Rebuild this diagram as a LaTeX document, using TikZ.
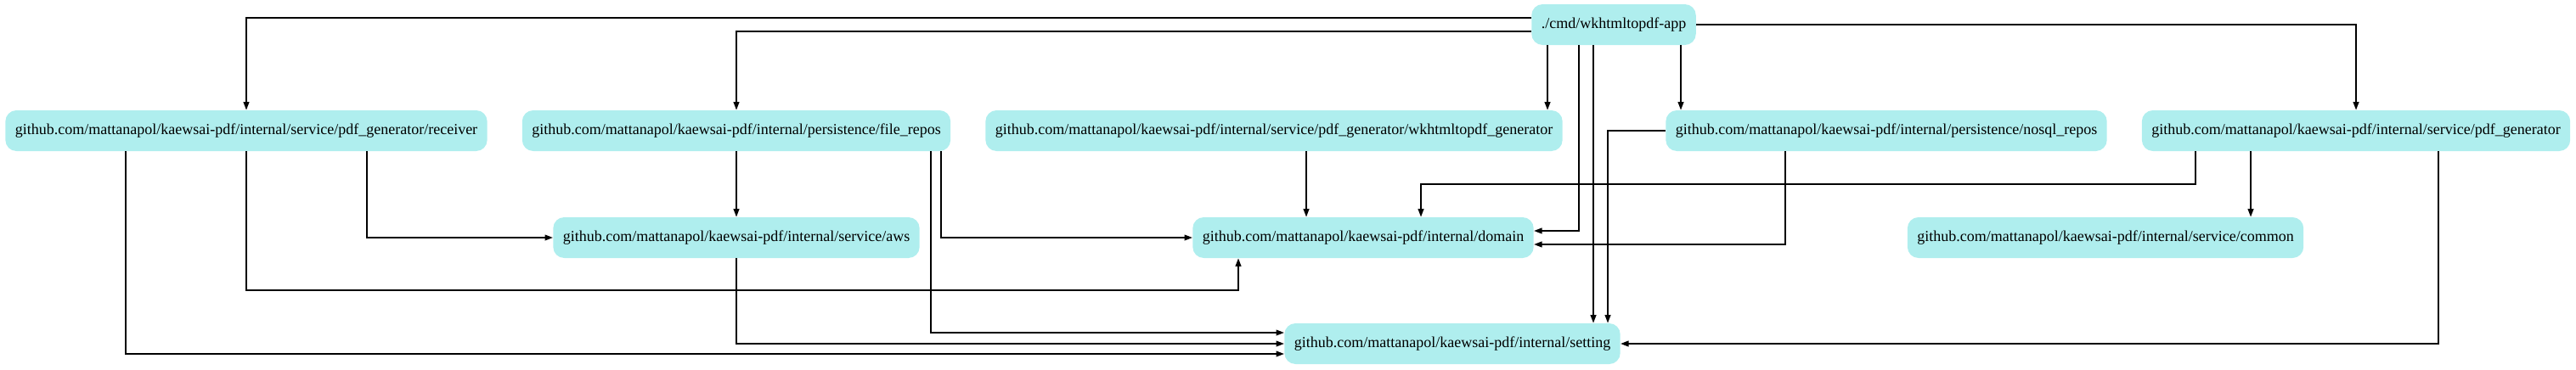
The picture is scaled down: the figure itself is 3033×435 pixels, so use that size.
\documentclass[tikz,border=0pt]{standalone}
\usepackage{fontspec}
\setmainfont{Liberation Serif}
\usetikzlibrary{calc, positioning, arrows.meta}
\definecolor{paleturq}{HTML}{AFEEEE}

\begin{document}
\begin{tikzpicture}[x=0.5pt,y=-0.5pt,>={Triangle[length=4.7pt,width=3.4pt]},
	pkg/.style={fill=paleturq, rounded corners=6.5pt, minimum height=24pt, inner xsep=5.75pt, inner ysep=0pt, font=\fontsize{9}{11}\selectfont},
	dep/.style={->, line width=0.65pt}]
				\useasboundingbox (0,0) rectangle (3033,435);
				\node[pkg] (app) at (1900,29) {./cmd/wkhtmltopdf-app};
				
				\node[pkg] (receiver) at (290,154) {github.com/mattanapol/kaewsai-pdf/internal/service/pdf\_generator/receiver};
				\node[pkg] (filerepos) at (867,154) {github.com/mattanapol/kaewsai-pdf/internal/persistence/file\_repos};
				\node[pkg] (wkgen) at (1500,154) {github.com/mattanapol/kaewsai-pdf/internal/service/pdf\_generator/wkhtmltopdf\_generator};
				\node[pkg] (nosql) at (2221,154) {github.com/mattanapol/kaewsai-pdf/internal/persistence/nosql\_repos};
				\node[pkg] (pdfgen) at (2774,154) {github.com/mattanapol/kaewsai-pdf/internal/service/pdf\_generator};
				
				\node[pkg] (aws) at (867,280) {github.com/mattanapol/kaewsai-pdf/internal/service/aws};
				\node[pkg] (domain) at (1605,280) {github.com/mattanapol/kaewsai-pdf/internal/domain};
				\node[pkg] (common) at (2479,280) {github.com/mattanapol/kaewsai-pdf/internal/service/common};
				
				\node[pkg] (setting) at (1710,405) {github.com/mattanapol/kaewsai-pdf/internal/setting};
				
				% app
				\draw[dep] ($(app.west)+(0,-8)$) -| (receiver);
				\draw[dep] ($(app.west)+(0,8)$) -| (filerepos);
				\draw[dep] (app) -| (pdfgen);
				\coordinate (r) at (1822,0);
				\draw[dep] (app.south-|r) -- (wkgen.north-|r);
				\coordinate (r) at (1859,0);
				\draw[dep] (app.south-|r) |- ($(domain.east)+(0,-8)$);
				\coordinate (r) at (1876,0);
				\draw[dep] (app.south-|r) -- (setting.north-|r);
				\coordinate (r) at (1979,0);
				\draw[dep] (app.south-|r) -- (nosql.north-|r);
				
				% receiver
				\coordinate (r) at (148,0);
				\draw[dep] (receiver.south-|r) |- ($(setting.west)+(0,12)$);
				\coordinate (r) at (1458,342);
				\draw[dep] (receiver) |- (r) -- (domain.south-|r);
				\coordinate (r) at (432,0);
				\draw[dep] (receiver.south-|r) |- (aws);
				
				% file_repos
				\draw[dep] (filerepos) -- (aws);
				\coordinate (r) at (1108,0);
				\draw[dep] (filerepos.south-|r) |- (domain);
				\coordinate (r) at (1096,0);
				\draw[dep] (filerepos.south-|r) |- ($(setting.west)+(0,-13)$);
				
				% aws, wkhtmltopdf_generator
				\draw[dep] (aws) |- (setting);
				\coordinate (r) at (1538,0);
				\draw[dep] (wkgen.south-|r) -- (domain.north-|r);
				
				% nosql_repos
				\coordinate (r) at (2102,0);
				\draw[dep] (nosql.south-|r) |- ($(domain.east)+(0,8)$);
				\coordinate (r) at (1893,0);
				\draw[dep] (nosql) -| (setting.north-|r);
				
				% pdf_generator
				\coordinate (r) at (2585,0);
				\coordinate (s) at (1673,217);
				\draw[dep] (pdfgen.south-|r) |- (s) -- (domain.north-|s);
				\coordinate (r) at (2650,0);
				\draw[dep] (pdfgen.south-|r) -- (common.north-|r);
				\coordinate (r) at (2871,0);
				\draw[dep] (pdfgen.south-|r) |- (setting);
			\end{tikzpicture}
\end{document}
